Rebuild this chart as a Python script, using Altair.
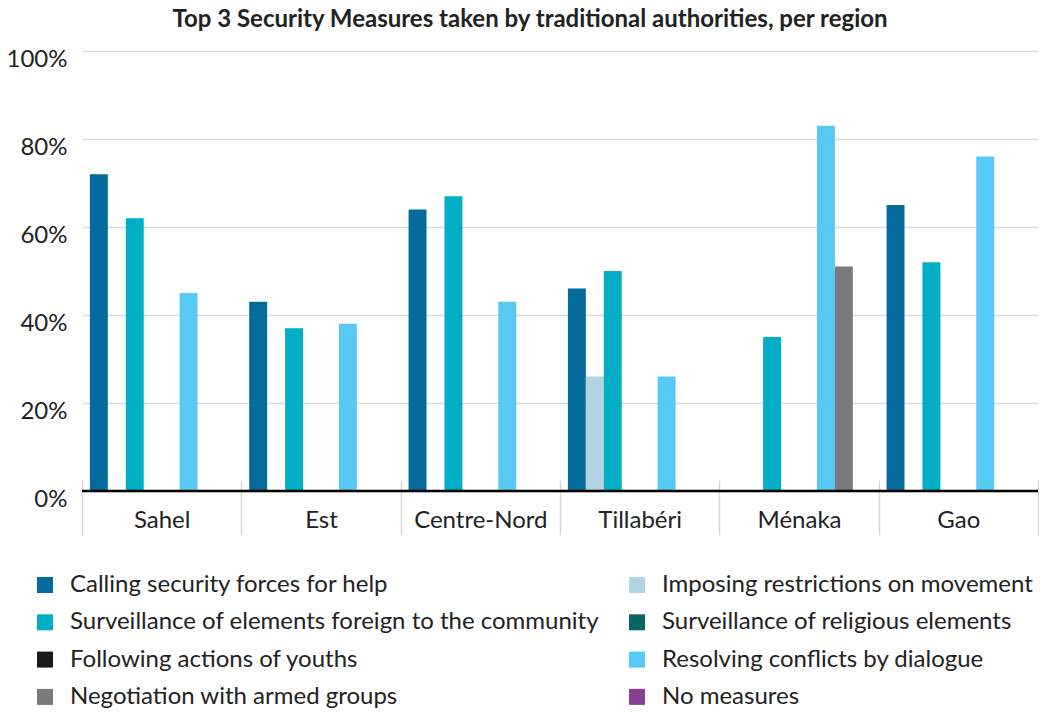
import altair as alt
import pandas as pd

regions = ["Sahel", "Est", "Centre-Nord", "Tillabéri", "Ménaka", "Gao"]
measures = [
    "Calling security forces for help",
    "Imposing restrictions on movement",
    "Surveillance of elements foreign to the community",
    "Surveillance of religious elements",
    "Following actions of youths",
    "Resolving conflicts by dialogue",
    "Negotiation with armed groups",
    "No measures",
]
colors = ["#056b9c", "#b1d3e3", "#01aec6", "#0e6462", "#1b1a1b", "#56c9f5", "#7b797a", "#8a3f97"]

calling = [72, 43, 64, 46, 0, 65]
restrictions = [0, 0, 0, 26, 0, 0]
foreign = [62, 37, 67, 50, 35, 52]
religious = [0, 0, 0, 0, 0, 0]
youths = [0, 0, 0, 0, 0, 0]
dialogue = [45, 38, 43, 26, 83, 76]
negotiation = [0, 0, 0, 0, 51, 0]
no_measures = [0, 0, 0, 0, 0, 0]

series = [calling, restrictions, foreign, religious, youths, dialogue, negotiation, no_measures]
rows = []
for m, vals in zip(measures, series):
    for r, v in zip(regions, vals):
        rows.append({"region": r, "measure": m, "value": v})
df = pd.DataFrame(rows)

FONT = "Lato"
FS = 24

bars = alt.Chart(df).mark_bar().encode(
    x=alt.X("region:N", sort=regions,
            scale=alt.Scale(paddingInner=0, paddingOuter=0),
            axis=alt.Axis(title=None, labelFontSize=FS, labelColor="#222222", labelFont=FONT,
                          domain=False, ticks=True, tickBand="extent", tickColor="#d6d6d6",
                          tickWidth=1.5, tickSize=55, offset=-11, labelPadding=-27,
                          labelAngle=0, grid=False)),
    xOffset=alt.XOffset("measure:N", sort=measures,
                        scale=alt.Scale(domain=measures, paddingInner=0, paddingOuter=0.44)),
    y=alt.Y("value:Q", scale=alt.Scale(domain=[0, 100]),
            axis=alt.Axis(title=None, values=[0, 20, 40, 60, 80, 100], labelExpr="datum.value + '%'",
                          labelFontSize=FS, labelColor="#222222", labelFont=FONT, labelPadding=15,
                          labelOffset=8, ticks=False, domain=False, gridColor="#dcdcdc",
                          gridWidth=1.5)),
    color=alt.Color("measure:N", sort=measures,
                    scale=alt.Scale(domain=measures, range=colors),
                    legend=alt.Legend(title=None, orient="none", legendX=-49, legendY=522,
                                      direction="horizontal", columns=2, columnPadding=25,
                                      rowPadding=13.3,
                                      symbolType="square", symbolSize=256, symbolStrokeWidth=0,
                                      symbolOpacity=1, labelFontSize=FS, labelFont=FONT,
                                      labelColor="#222222", labelLimit=0, labelOffset=13,
                                      padding=0)),
)

baseline = alt.Chart(pd.DataFrame({"zero": [0]})).mark_rule(color="#000000", strokeWidth=2.5).encode(
    y=alt.Y("zero:Q")
)

chart = alt.layer(bars, baseline).properties(
    width=956,
    height=440,
    title=alt.TitleParams("Top 3 Security Measures taken by traditional authorities, per region",
                          font=FONT, fontSize=24, fontWeight="bold", color="#222222",
                          anchor="middle", dx=-30, offset=0, dy=4, baseline="alphabetic"),
    autosize=alt.AutoSizeParams(type="none"),
    padding={"left": 74, "top": 43, "right": 1, "bottom": 221},
).configure_view(stroke=None)

chart.save("out.html", embed_options={"renderer": "svg", "actions": False})
